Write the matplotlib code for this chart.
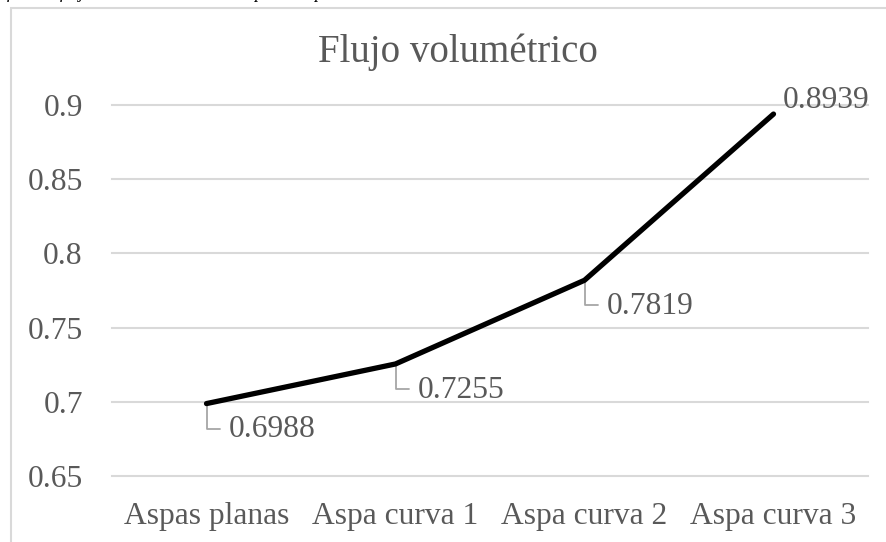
import matplotlib
matplotlib.use("Agg")
import matplotlib.pyplot as plt
from matplotlib.patches import Rectangle

categories = ["Aspas planas", "Aspa curva 1", "Aspa curva 2", "Aspa curva 3"]
values = [0.6988, 0.7255, 0.7819, 0.8939]
yticks = [0.65, 0.7, 0.75, 0.8, 0.85, 0.9]
ytick_labels = ["0.65", "0.7", "0.75", "0.8", "0.85", "0.9"]
title = "Flujo volumétrico"
caption = "Gráfica de flujo volumétrico total vs tipo de aspa."

plt.rcParams["font.family"] = ["Liberation Serif", "DejaVu Serif"]
W, H = 886, 542
fig = plt.figure(figsize=(W / 100, H / 100), dpi=100)
gray = "#595959"
grid = "#d9d9d9"
lead = "#a6a6a6"
fs = 22.7

# chart border (extends beyond right/bottom edges)
fig.patches.append(Rectangle((10.5 / W, -0.05), 1.2, 1 - 7.5 / H + 0.05,
                             transform=fig.transFigure, fill=False,
                             edgecolor=grid, linewidth=1.5))
# caption above the chart, clipped by the image edge as in the original
fig.text(-22 / W, 1 + 1.5 / H, caption, fontsize=13, style="italic",
         color="black", ha="left", va="baseline")

x0, x1 = 112, 868
ytop, ybot = 105, 476
ax = fig.add_axes([x0 / W, 1 - ybot / H, (x1 - x0) / W, (ybot - ytop) / H])
ax.set_xlim(0, 4)
ax.set_ylim(0.65, 0.9)
xs = [i + 0.5 for i in range(len(categories))]

for t in yticks:
    ax.axhline(t, color=grid, linewidth=1.5, zorder=0, clip_on=False)
for s in ax.spines.values():
    s.set_visible(False)
ax.set_yticks(yticks)
ax.set_yticklabels(ytick_labels)
ax.set_xticks(xs)
ax.set_xticklabels(categories)
ax.tick_params(axis="both", length=0, labelsize=fs, labelcolor=gray)
ax.tick_params(axis="y", pad=21)
ax.tick_params(axis="x", pad=19)

ax.plot(xs, values, color="black", linewidth=3.8, solid_capstyle="round",
        zorder=3, clip_on=False)

# data labels with L-shaped leader lines (offsets in points)
drop = 18.0
for i, (x, v) in enumerate(zip(xs, values)):
    lbl = f"{v:.4f}"
    if i < 3:
        ax.annotate("", xy=(x, v), xytext=(9.5, -drop), textcoords="offset points",
                    arrowprops=dict(arrowstyle="-", color=lead, lw=1.3,
                                    shrinkA=0, shrinkB=0,
                                    connectionstyle="angle,angleA=180,angleB=90,rad=0"),
                    annotation_clip=False, zorder=2)
        ax.annotate(lbl, xy=(x, v), xytext=(16, -drop - 1), textcoords="offset points",
                    fontsize=fs, color=gray, ha="left", va="center",
                    annotation_clip=False)
    else:
        ax.annotate(lbl, xy=(x, v), xytext=(7, 10), textcoords="offset points",
                    fontsize=fs, color=gray, ha="left", va="center",
                    annotation_clip=False)

fig.text(458 / W, 1 - 52 / H, title, fontsize=28,
         color=gray, ha="center", va="center")

fig.savefig("out.png", dpi=100)
